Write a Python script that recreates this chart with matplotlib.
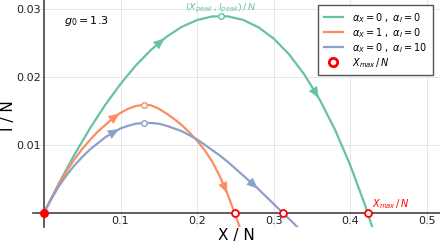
import numpy as np
import matplotlib
matplotlib.use("Agg")
import matplotlib.pyplot as plt
from matplotlib.lines import Line2D

# ---------------- data ----------------
x_green = [0, 0.02, 0.04, 0.06, 0.08, 0.10, 0.12, 0.14, 0.16, 0.18, 0.20, 0.22, 0.24,
           0.26, 0.28, 0.30, 0.32, 0.34, 0.36, 0.38, 0.40, 0.42, 0.435]
i_green = [0, 0.00446, 0.00860, 0.01240, 0.01586, 0.01895, 0.02167, 0.02398, 0.02588,
           0.02735, 0.02835, 0.02888, 0.02890, 0.02838, 0.02730, 0.02564, 0.02334,
           0.02037, 0.01670, 0.01228, 0.00706, 0.00098, -0.0042]

x_orange = [0, 0.01, 0.02, 0.03, 0.04, 0.05, 0.06, 0.07, 0.08, 0.09, 0.10, 0.11, 0.12,
            0.131, 0.14, 0.15, 0.16, 0.17, 0.18, 0.19, 0.20, 0.21, 0.22, 0.23, 0.24,
            0.249, 0.257]
i_orange = [0, 0.0022, 0.0043, 0.0062, 0.0079, 0.0094, 0.0107, 0.0119, 0.0129, 0.0139,
            0.0147, 0.0153, 0.0157, 0.0159, 0.0158, 0.0153, 0.0146, 0.0138, 0.0129,
            0.0118, 0.0106, 0.0092, 0.0075, 0.0053, 0.0027, 0.0, -0.0025]

x_blue = [0, 0.01, 0.02, 0.03, 0.04, 0.05, 0.06, 0.07, 0.08, 0.09, 0.10, 0.11, 0.12,
          0.131, 0.14, 0.15, 0.16, 0.17, 0.18, 0.19, 0.20, 0.21, 0.22, 0.23, 0.24,
          0.25, 0.26, 0.27, 0.28, 0.29, 0.30, 0.312, 0.332]
i_blue = [0, 0.0021, 0.0040, 0.0056, 0.0070, 0.0082, 0.0093, 0.0102, 0.0111, 0.0118,
          0.0124, 0.0128, 0.0131, 0.0132, 0.0132, 0.0131, 0.0128, 0.0124, 0.0120,
          0.0114, 0.0108, 0.0100, 0.0092, 0.0084, 0.0075, 0.0065, 0.0055, 0.0045,
          0.0035, 0.0024, 0.0013, 0.0, -0.0022]

labels = [r"$\alpha_X = 0\ ,\ \alpha_I = 0$",
          r"$\alpha_X = 1\ ,\ \alpha_I = 0$",
          r"$\alpha_X = 0\ ,\ \alpha_I = 10$"]
colors = ["#66c2a5", "#fc8d62", "#8da0cb"]

peak_x = [0.2308, 0.131, 0.131]
peak_i = [0.0290, 0.0159, 0.0132]
xmax = [0.423, 0.249, 0.312]
arrow_x = [[0.153, 0.356], [0.094, 0.237], [0.093, 0.275]]

xticks = [0.1, 0.2, 0.3, 0.4, 0.5]
yticks = [0.01, 0.02, 0.03]

# ---------------- figure ----------------
W, H = 440, 242
fig = plt.figure(figsize=(W / 100, H / 100), dpi=100)
ax = fig.add_axes([33 / W, 1 - 227 / H, 407 / W, 227 / H])
ax.set_xlim(-0.0144, 0.5175)
ax.set_ylim(-0.0021, 0.0313)

for s in ["top", "right"]:
    ax.spines[s].set_visible(False)
for s in ["left", "bottom"]:
    ax.spines[s].set_position(("data", 0))
    ax.spines[s].set_color("#444444")
    ax.spines[s].set_linewidth(1.2)
    ax.spines[s].set_zorder(2.5)

ax.set_xticks(xticks)
ax.set_yticks(yticks)
ax.tick_params(length=0, pad=2.5, labelsize=8, colors="#222222")
ax.grid(True, color="#e6e6e6", lw=0.7)
ax.set_axisbelow(True)

ax.set_xlabel("X / N", fontsize=11)
ax.set_ylabel("I / N", fontsize=11)
ax.xaxis.set_label_coords(0.499, -0.036)
ax.yaxis.set_label_coords(-0.060, 0.49)
ax.xaxis.label.set_va("center")
ax.yaxis.label.set_va("center")

series = [(x_green, i_green), (x_orange, i_orange), (x_blue, i_blue)]
for (xs, ys), c, lab in zip(series, colors, labels):
    ax.plot(xs, ys, color=c, lw=1.6, label=lab, zorder=3)

fig.canvas.draw()


def arrow_on_curve(xs, ys, xc, c, half=4.5):
    pts = ax.transData.transform(np.column_stack([xs, ys]))
    seg = np.hypot(np.diff(pts[:, 0]), np.diff(pts[:, 1]))
    s = np.concatenate([[0], np.cumsum(seg)])
    k = int(np.argmax(ys))
    if xc <= xs[k]:
        sc = np.interp(xc, xs[:k + 1], s[:k + 1])
    else:
        sc = np.interp(xc, xs[k:], s[k:])
    p0 = np.array([np.interp(sc - half, s, pts[:, 0]), np.interp(sc - half, s, pts[:, 1])])
    p1 = np.array([np.interp(sc + half, s, pts[:, 0]), np.interp(sc + half, s, pts[:, 1])])
    inv = ax.transData.inverted()
    d0 = inv.transform(p0)
    d1 = inv.transform(p1)
    ax.annotate("", xy=tuple(d1), xytext=tuple(d0),
                arrowprops=dict(arrowstyle="-|>,head_length=0.75,head_width=0.32",
                                color=c, lw=0.3, shrinkA=0, shrinkB=0,
                                mutation_scale=10), zorder=4)


for (xs, ys), c, axs in zip(series, colors, arrow_x):
    for xc in axs:
        arrow_on_curve(np.array(xs), np.array(ys), xc, c)

# peak markers
for px, pi, c in zip(peak_x, peak_i, colors):
    ax.plot(px, pi, "o", ms=4, mfc="white", mec=c, mew=1.0, zorder=5)

# Xmax markers
ax.plot(xmax, [0] * len(xmax), "o", ls="none", ms=5, mfc="white", mec="red",
        mew=1.3, zorder=6, clip_on=False)
ax.plot([0], [0], "o", ms=5.5, color="red", zorder=6, clip_on=False)

ax.text(0.026, 0.0282, r"$g_0 = 1.3$", fontsize=8, va="center", ha="left")
ax.text(peak_x[0], 0.0301, r"$(X_{peak}\,,I_{peak})\,/\,N$", fontsize=6.8,
        color=colors[0], ha="center", va="center")
ax.text(0.428, 0.0013, r"$X_{max}\,/\,N$", fontsize=7, color="red",
        ha="left", va="center")

handles, labs = ax.get_legend_handles_labels()
handles.append(Line2D([], [], ls="none", marker="o", ms=6, mfc="white",
                      mec="red", mew=2.0))
labs.append(r"$X_{max}\,/\,N$")
leg = ax.legend(handles, labs, loc="upper right", bbox_to_anchor=(0.983, 0.978),
                borderaxespad=0, fontsize=7, fancybox=False, framealpha=1,
                edgecolor="#555555", handlelength=2.0, labelspacing=0.12,
                borderpad=0.6, handletextpad=0.9)
leg.get_frame().set_linewidth(1.0)
leg.set_zorder(10)

fig.savefig("out.png", dpi=100)
